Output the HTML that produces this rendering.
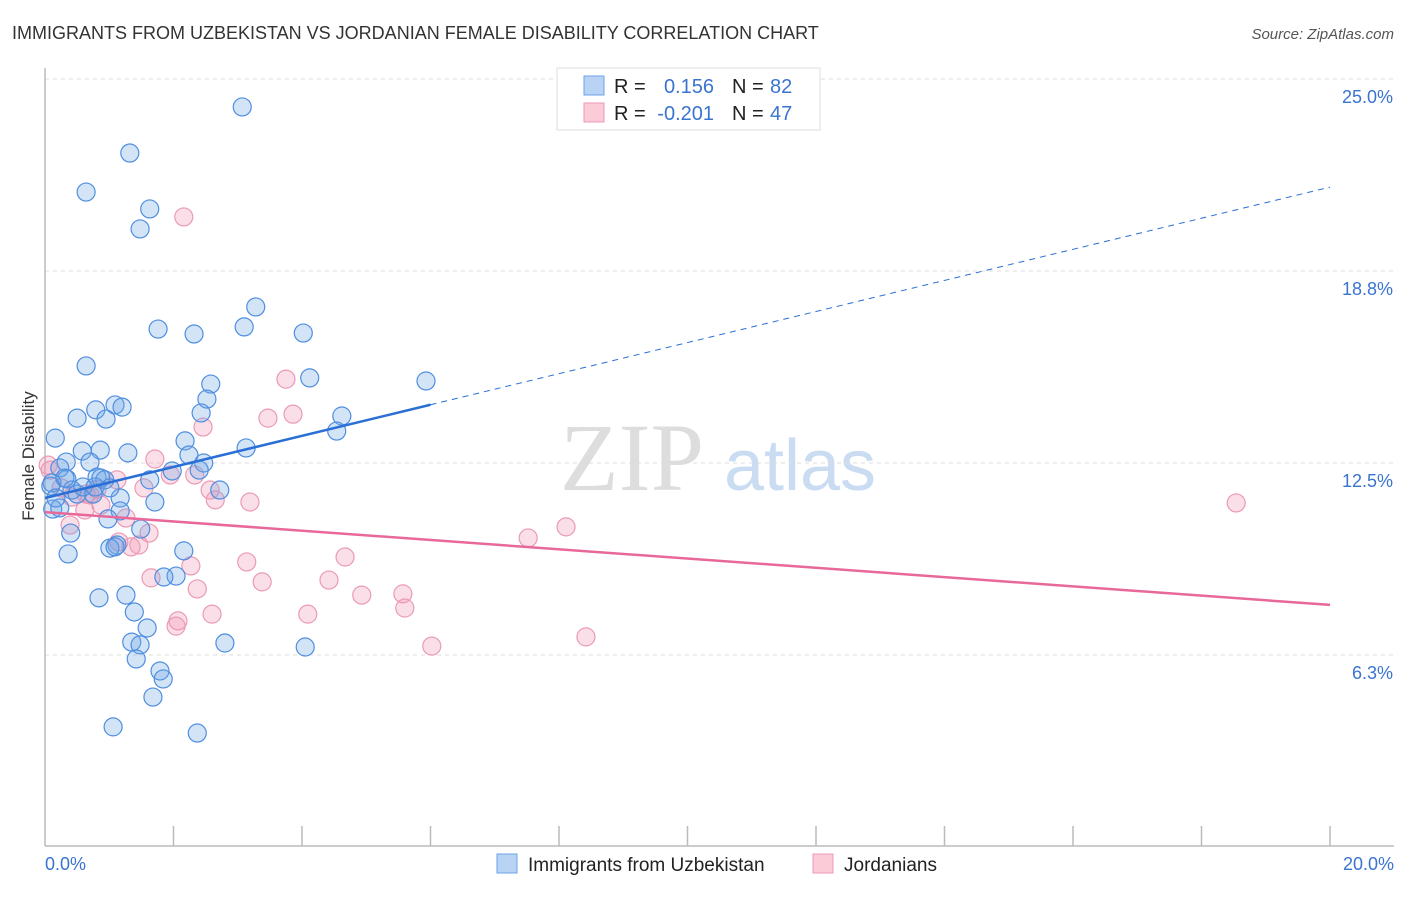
<!DOCTYPE html>
<html><head><meta charset="utf-8"><style>
html,body{margin:0;padding:0;background:#fff;}
body{width:1406px;height:892px;overflow:hidden;font-family:"Liberation Sans",sans-serif;}
</style></head><body>
<svg id="chart" width="1406" height="892" xmlns="http://www.w3.org/2000/svg" font-family="Liberation Sans, sans-serif">
<text x="12" y="39" font-size="18" fill="#333">IMMIGRANTS FROM UZBEKISTAN VS JORDANIAN FEMALE DISABILITY CORRELATION CHART</text>
<text x="1394" y="39" font-size="15" fill="#555" text-anchor="end" font-style="italic">Source: ZipAtlas.com</text>
<text transform="translate(34,456) rotate(-90)" font-size="17" fill="#333" text-anchor="middle">Female Disability</text>
<g>
<text x="632" y="490" font-size="96" font-family="Liberation Serif, serif" fill="#ddd" text-anchor="middle">ZIP</text>
<text x="800" y="490" font-size="72" fill="#c9dcf2" text-anchor="middle">atlas</text>
</g>
<g id="grid"></g>
<g id="axes"></g>
<g id="points"></g>
<g id="lines"></g>
<g>
<rect x="557" y="68" width="263" height="62" fill="#fff" stroke="#ddd"/>
<rect x="584" y="76" width="20" height="19" fill="#b9d3f5" stroke="#6ea2e6"/>
<rect x="584" y="103" width="20" height="19" fill="#fbcbd8" stroke="#ef9ab4"/>
<text x="614" y="93" font-size="20" fill="#222">R =</text>
<text x="714" y="93" font-size="20" fill="#3a74d0" text-anchor="end">0.156</text>
<text x="732" y="93" font-size="20" fill="#222">N =</text>
<text x="770" y="93" font-size="20" fill="#3a74d0">82</text>
<text x="614" y="120" font-size="20" fill="#222">R =</text>
<text x="714" y="120" font-size="20" fill="#3a74d0" text-anchor="end">-0.201</text>
<text x="732" y="120" font-size="20" fill="#222">N =</text>
<text x="770" y="120" font-size="20" fill="#3a74d0">47</text>
</g>
<g>
<rect x="497" y="854" width="20" height="19" fill="#b9d3f5" stroke="#6ea2e6"/>
<text x="528" y="871" font-size="19" fill="#222">Immigrants from Uzbekistan</text>
<rect x="813" y="854" width="20" height="19" fill="#fbcbd8" stroke="#ef9ab4"/>
<text x="844" y="871" font-size="19" fill="#222">Jordanians</text>
</g>
</svg>
<script>
const yTicks=[6.25,12.5,18.75,25];
const yTickLabels=["6.3%","12.5%","18.8%","25.0%"];
const xTickLabels=["0.0%","20.0%"];
const blueX=[3.07,1.32,0.64,1.63,1.48,3.28,1.76,3.10,2.32,4.02,0.64,4.12,2.58,5.93,2.52,1.09,1.20,0.79,0.50,2.43,4.62,0.95,4.54,0.16,2.18,3.13,1.29,0.58,0.86,0.33,2.24,2.47,0.23,0.70,2.40,1.98,0.81,0.34,0.11,0.93,0.42,0.75,2.72,0.50,1.17,1.71,0.12,0.23,1.17,0.98,1.49,0.40,2.16,0.36,1.12,1.01,1.09,2.04,1.85,0.84,1.26,1.39,1.59,1.35,2.80,1.48,4.05,1.42,1.79,1.84,1.68,1.06,2.37,0.09,0.17,0.31,0.59,0.78,0.87,1.63,1.01];
const blueY=[24.09,22.59,21.32,20.77,20.12,17.58,16.86,16.93,16.70,16.73,15.66,15.27,15.07,15.17,14.58,14.39,14.32,14.23,13.96,14.13,14.03,13.93,13.54,13.31,13.22,12.99,12.83,12.89,12.92,12.53,12.76,12.50,12.34,12.53,12.27,12.24,12.04,11.98,11.85,11.95,11.62,11.49,11.62,11.49,11.36,11.23,11.00,11.04,10.94,10.68,10.35,10.22,9.64,9.54,9.83,9.73,9.77,8.82,8.79,8.11,8.20,7.65,7.13,6.67,6.64,6.58,6.51,6.12,5.73,5.47,4.88,3.91,3.71,11.75,11.36,12.01,11.72,11.72,12.01,11.95,11.69];
const pinkX=[2.16,3.75,3.86,3.47,2.46,1.71,1.95,0.08,0.05,0.25,0.42,0.64,0.81,1.12,1.54,2.65,3.19,2.57,2.33,0.39,0.62,0.87,1.26,1.62,1.46,1.34,1.15,7.52,8.11,18.54,1.65,2.27,3.14,3.38,4.42,4.67,4.93,5.57,5.60,2.37,2.60,4.09,2.07,2.04,6.02,8.42,0.70];
const pinkY=[20.51,15.23,14.09,13.96,13.67,12.63,12.11,12.27,12.43,11.69,11.39,11.49,11.65,11.95,11.69,11.30,11.23,11.62,12.11,10.48,10.97,11.13,10.71,10.22,9.83,9.77,9.93,10.06,10.42,11.20,8.76,9.15,9.28,8.63,8.69,9.44,8.20,8.24,7.78,8.40,7.58,7.58,7.36,7.19,6.54,6.84,11.46];
const blueTrend=[11.36,21.48]; const blueSolidEnd=6.0;
const pinkTrend=[10.90,7.88];

const NS="http://www.w3.org/2000/svg";
const X0=45,X1=1330,Y0=847,Y1=79;
const sx=v=>X0+(v/20)*(X1-X0);
const sy=v=>Y0-(v/25)*(Y0-Y1);
function mk(tag,attrs,parent){const e=document.createElementNS(NS,tag);for(const k in attrs)e.setAttribute(k,attrs[k]);parent.appendChild(e);return e;}
const grid=document.getElementById('grid'),axes=document.getElementById('axes'),pts=document.getElementById('points'),lines=document.getElementById('lines');
yTicks.forEach((t,i)=>{
 const g=mk('line',{x1:X0,x2:1394,y1:sy(t),y2:sy(t),stroke:'#ddd','stroke-dasharray':'4,4'},grid);
 
 
 const tx=mk('text',{x:1393,y:sy(t)+24,'font-size':18,fill:'#3a74d0','text-anchor':'end'},axes);
 tx.textContent=yTickLabels[i];
 
 
});
const ax=mk('line',{x1:X0,x2:X0,y1:68,y2:846,stroke:'#bbb','stroke-width':1.5},axes);


const bx=mk('line',{x1:X0,x2:1394,y1:846,y2:846,stroke:'#bbb','stroke-width':1.5},axes);


for(let i=1;i<=10;i++){
 const tk=mk('line',{x1:sx(i*2),x2:sx(i*2),y1:826,y2:846,stroke:'#bbb','stroke-width':1.5},axes);
 
 
}
[[0,'start',45],[20,'end',1394]].forEach((d,i)=>{
 const tx=mk('text',{x:d[2],y:870,'font-size':18,fill:'#3a74d0','text-anchor':d[1]},axes);
 tx.textContent=xTickLabels[i];
 
 
});
pinkX.forEach((x,i)=>{
 const c=mk('circle',{cx:sx(x),cy:sy(pinkY[i]),r:9,fill:'rgba(242,150,180,0.3)',stroke:'#eb9ab4','stroke-width':1.2},pts);
 
 
});
blueX.forEach((x,i)=>{
 const c=mk('circle',{cx:sx(x),cy:sy(blueY[i]),r:9,fill:'rgba(110,165,230,0.3)',stroke:'#4f8ee0','stroke-width':1.2},pts);
 
 
});
const by=x=>blueTrend[0]+(blueTrend[1]-blueTrend[0])*x/20;
const l1=mk('line',{x1:sx(0),y1:sy(by(0)),x2:sx(blueSolidEnd),y2:sy(by(blueSolidEnd)),stroke:'#2a6fd6','stroke-width':2.5},lines);


const l2=mk('line',{x1:sx(blueSolidEnd),y1:sy(by(blueSolidEnd)),x2:sx(20),y2:sy(by(20)),stroke:'#2a6fd6','stroke-width':1,'stroke-dasharray':'6,5'},lines);


const l3=mk('line',{x1:sx(0),y1:sy(pinkTrend[0]),x2:sx(20),y2:sy(pinkTrend[1]),stroke:'#e8689a','stroke-width':2.5},lines);


</script>
</body></html>
